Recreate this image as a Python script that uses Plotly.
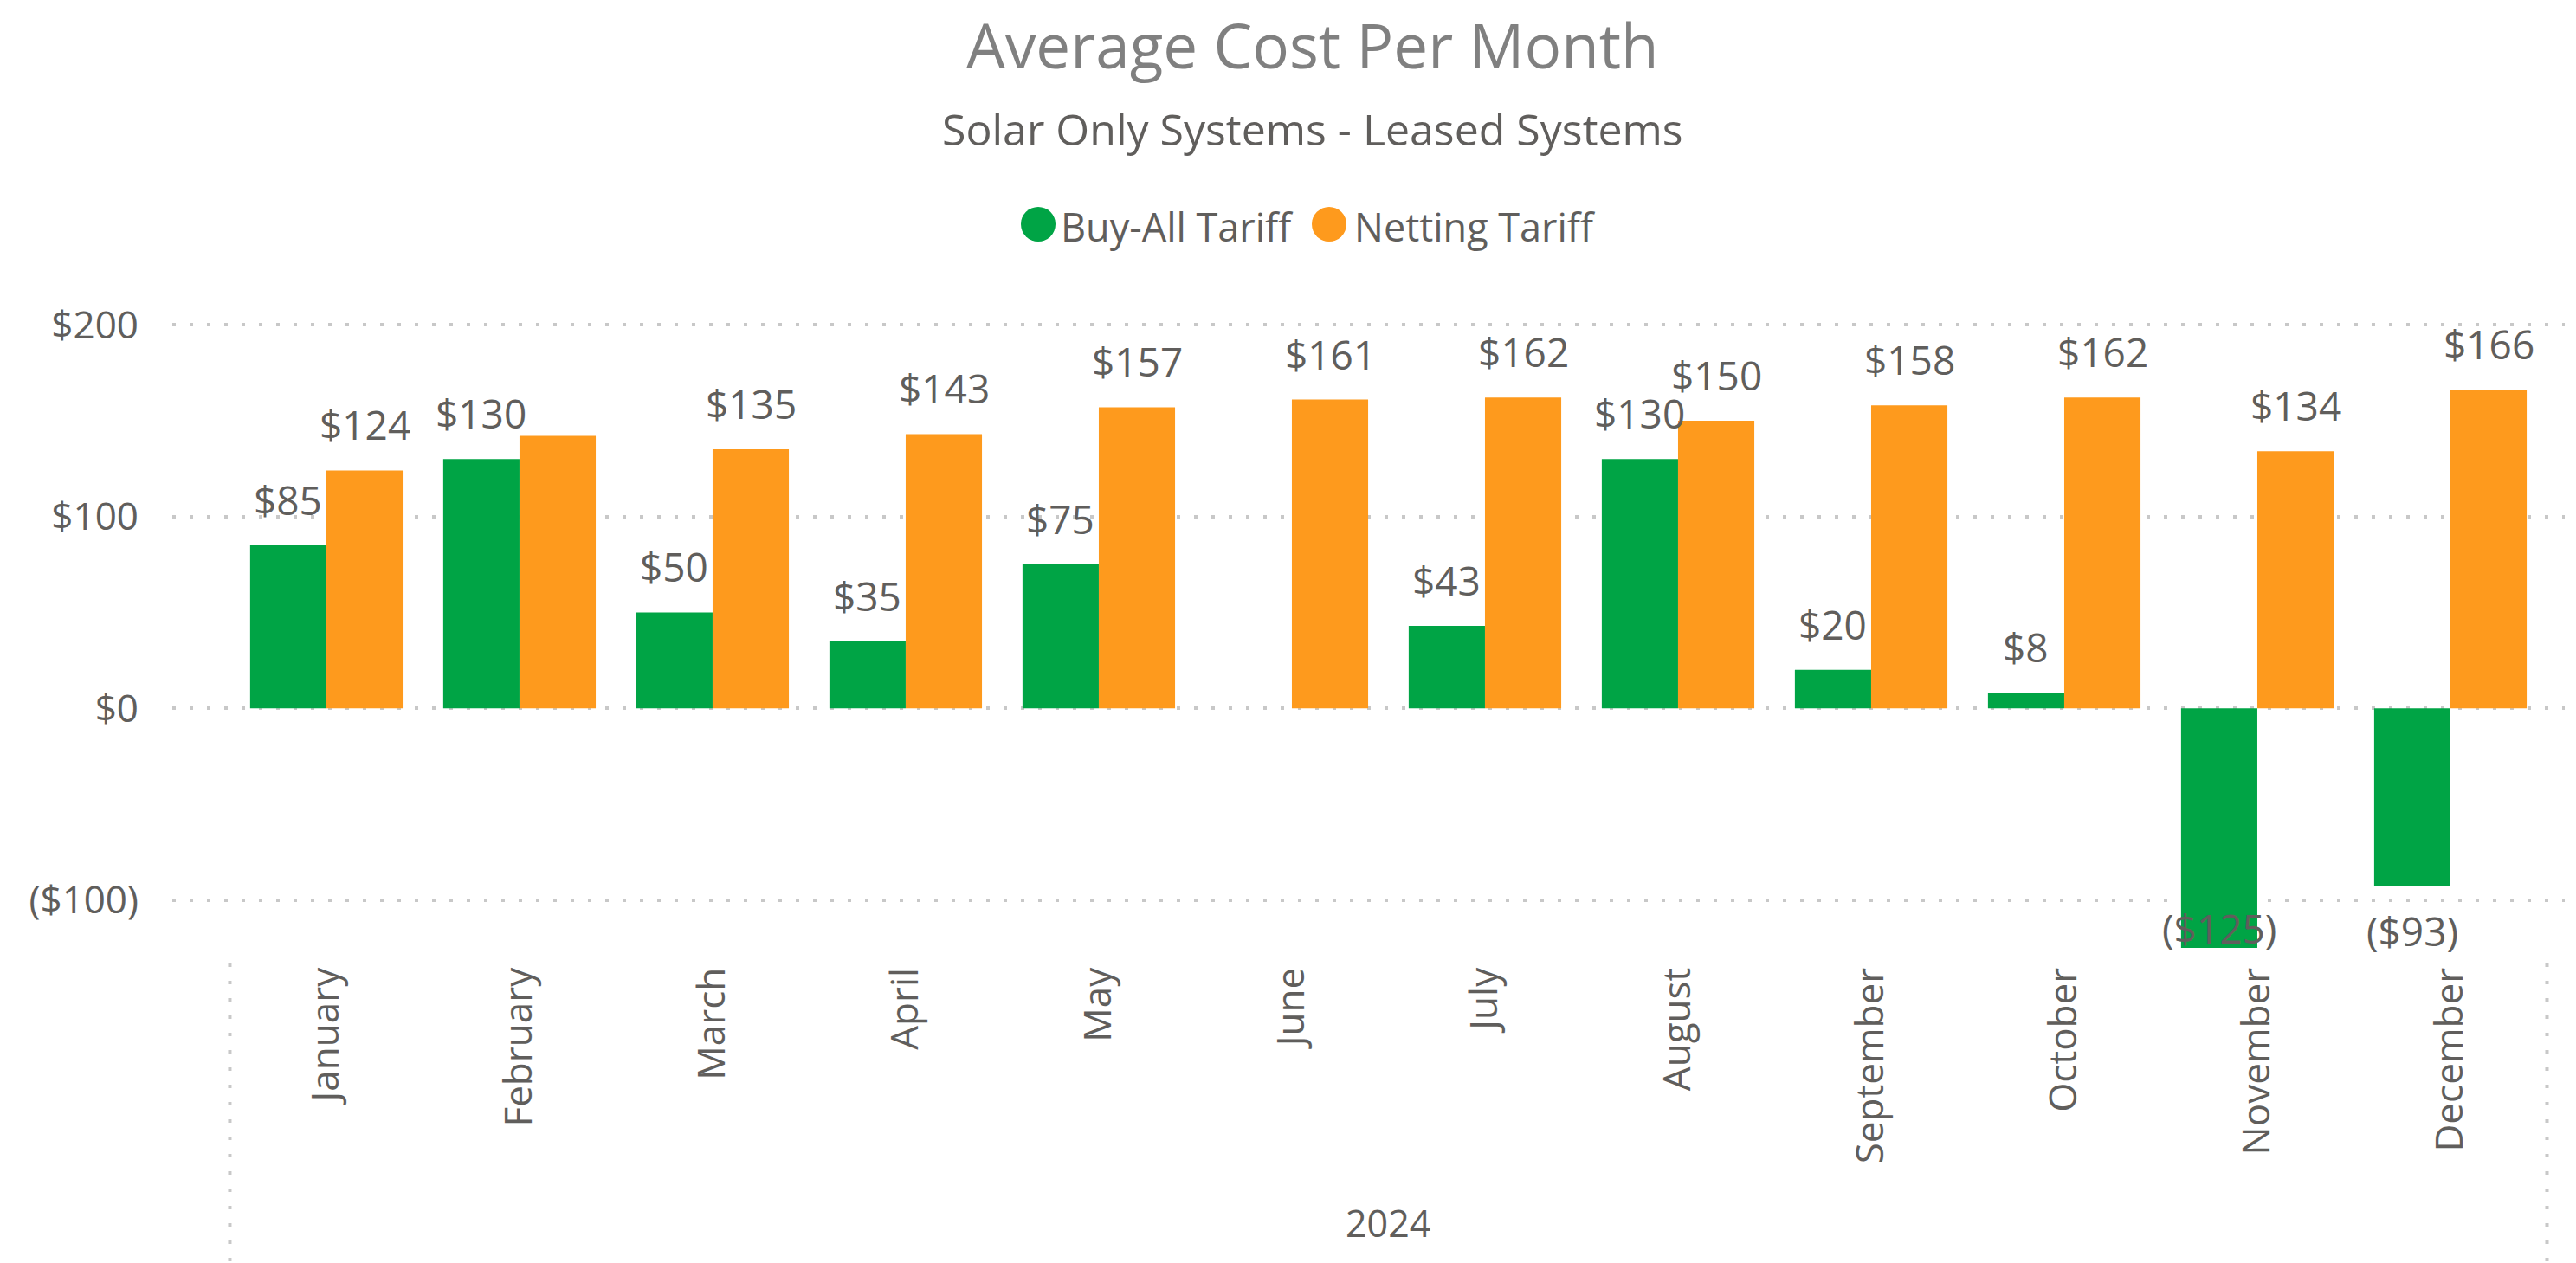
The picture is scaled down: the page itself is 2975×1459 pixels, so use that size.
import plotly.graph_objects as go

# ---------------- data ----------------
months = ["January", "February", "March", "April", "May", "June",
          "July", "August", "September", "October", "November", "December"]
buy_all = [85, 130, 50, 35, 75, None, 43, 130, 20, 8, -125, -93]
netting = [124, 142, 135, 143, 157, 161, 162, 150, 158, 162, 134, 166]
# Power BI hid the February netting label (overlap) -> keep it hidden
netting_label_shown = [True, False, True, True, True, True, True, True, True, True, True, True]
y_tick_vals = [-100, 0, 100, 200]
y_tick_text = ["($100)", "$0", "$100", "$200"]
year_label = "2024"
series_names = ["Buy-All Tariff", "Netting Tariff"]

# ---------------- styles ----------------
W, H = 2975, 1459
ML, MR, MT, MB = 199, 13, 353, 364
PW, PH = W - ML - MR, H - MT - MB
YMIN, YMAX = -125, 210
XMIN, XMAX = -0.798, 11.592
GREEN = "#00A445"
ORANGE = "#FE9A1D"
TXT = "#605E5C"
TITLE_C = "#808080"
GRID = "#C8C8C8"
FONT = "Open Sans"
BARGAP = 0.21
HALF = (1 - BARGAP) / 4  # offset of each bar centre from category centre


def money(v):
    return f"(${abs(v):,.0f})" if v < 0 else f"${v:,.0f}"


def px2paper_x(px):
    return (px - ML) / PW


def px2paper_y(py):
    return (H - MB - py) / PH


def data2paper_x(x):
    return (x - XMIN) / (XMAX - XMIN)


fig = go.Figure()
fig.add_trace(go.Bar(x=months, y=buy_all, name=series_names[0], marker_color=GREEN,
                     marker_line_width=0, showlegend=False))
fig.add_trace(go.Bar(x=months, y=netting, name=series_names[1], marker_color=ORANGE,
                     marker_line_width=0, showlegend=False))

annotations = []
label_font = dict(family=FONT, size=46, color=TXT)
for i, v in enumerate(buy_all):
    if v is None:
        continue
    x = i - HALF
    if v >= 0:
        annotations.append(dict(x=x, y=v, xref="x", yref="y", text=money(v), showarrow=False,
                                yanchor="bottom", yshift=20, font=label_font))
    else:
        if v < YMIN + 30:
            annotations.append(dict(x=x, y=YMIN, xref="x", yref="y", text=money(v), showarrow=False,
                                    yanchor="bottom", yshift=-10, font=label_font))
        else:
            annotations.append(dict(x=x, y=v, xref="x", yref="y", text=money(v), showarrow=False,
                                    yanchor="top", yshift=-18, font=label_font))
for i, v in enumerate(netting):
    if v is None or not netting_label_shown[i]:
        continue
    annotations.append(dict(x=i + HALF, y=v, xref="x", yref="y", text=money(v), showarrow=False,
                            yanchor="bottom", yshift=20, font=label_font))

# titles
annotations.append(dict(x=px2paper_x(1516), y=px2paper_y(1), xref="paper", yref="paper",
                        text="Average Cost Per Month", showarrow=False, xanchor="center",
                        yanchor="top", font=dict(family=FONT, size=71, color=TITLE_C)))
annotations.append(dict(x=px2paper_x(1516), y=px2paper_y(149), xref="paper", yref="paper",
                        text="Solar Only Systems - Leased Systems", showarrow=False,
                        xanchor="center", yanchor="middle",
                        font=dict(family=FONT, size=50, color=TXT)))
# legend (manual, circle markers)
legend_items = [(series_names[0], GREEN, 1199, 1223), (series_names[1], ORANGE, 1535, 1562)]
shapes = []
for name, col, cx, tx in legend_items:
    shapes.append(dict(type="circle", xref="paper", yref="paper",
                       xsizemode="pixel", ysizemode="pixel",
                       xanchor=px2paper_x(cx), yanchor=px2paper_y(259),
                       x0=-20, x1=20, y0=-20, y1=20,
                       fillcolor=col, line=dict(width=0)))
    annotations.append(dict(x=px2paper_x(tx), y=px2paper_y(261), xref="paper", yref="paper",
                            text=name, showarrow=False, xanchor="left", yanchor="middle",
                            font=dict(family=FONT, size=45, color=TXT)))

# hierarchy group label + separators
annotations.append(dict(x=(len(months) - 1) / 2, y=px2paper_y(1412), xref="x", yref="paper",
                        text=year_label, showarrow=False, xanchor="center", yanchor="middle",
                        font=dict(family=FONT, size=43, color=TXT)))
for xv in (-0.5, len(months) - 0.5):
    shapes.append(dict(type="line", xref="paper", yref="paper",
                       x0=data2paper_x(xv), x1=data2paper_x(xv),
                       y0=px2paper_y(1113), y1=px2paper_y(H),
                       line=dict(color=GRID, width=4, dash="4px,16px")))

fig.update_layout(
    width=W, height=H,
    margin=dict(l=ML, r=MR, t=MT, b=MB, pad=0),
    paper_bgcolor="white", plot_bgcolor="white",
    barmode="group", bargap=BARGAP, bargroupgap=0,
    font=dict(family=FONT, color=TXT),
    annotations=annotations, shapes=shapes,
    showlegend=False,
)
fig.update_xaxes(
    type="category", range=[XMIN, XMAX], showgrid=False, zeroline=False, showline=False,
    ticks="", tickangle=-90, ticklabelstandoff=13,
    tickfont=dict(family=FONT, size=44, color=TXT),
)
fig.update_yaxes(
    range=[YMIN, YMAX], tickvals=y_tick_vals, ticktext=y_tick_text,
    showgrid=True, gridcolor=GRID, gridwidth=4, griddash="4px,16px",
    zeroline=False, showline=False, ticks="", ticklabelstandoff=38,
    tickfont=dict(family=FONT, size=44, color=TXT),
)

fig.write_html("out.html")
